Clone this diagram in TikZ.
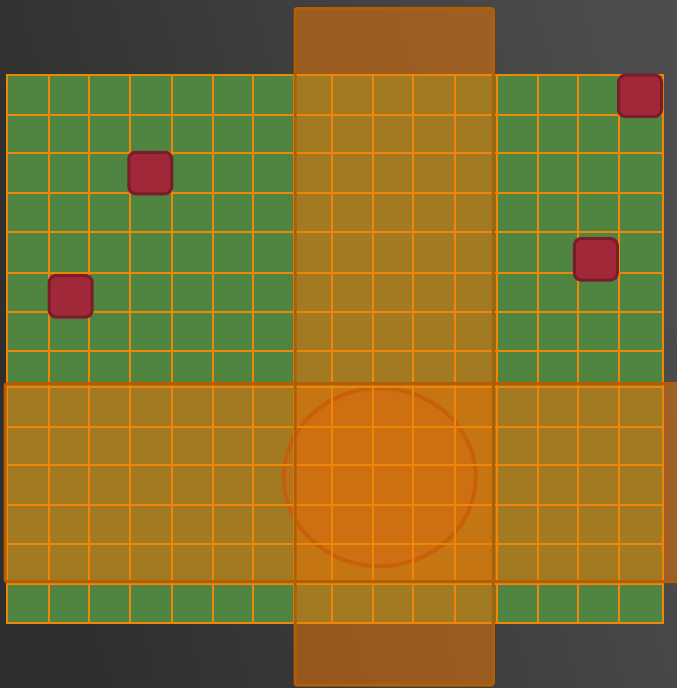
\documentclass[tikz,border=0pt]{standalone}
\usepackage{xcolor}
\usepackage{tikz}
\usetikzlibrary{positioning}

\definecolor{bgdark}{RGB}{46,46,46}
\definecolor{bglight}{RGB}{76,76,76}
\definecolor{turf}{RGB}{79,133,65}
\definecolor{gridorange}{RGB}{240,134,8}
\definecolor{bandorange}{RGB}{226,114,10}
\definecolor{bandedge}{RGB}{178,94,4}
\definecolor{spotorange}{RGB}{222,104,16}
\definecolor{spotedge}{RGB}{200,92,8}
\definecolor{blockred}{RGB}{160,40,56}
\definecolor{blockedge}{RGB}{122,28,42}

\begin{document}
\begin{tikzpicture}[x=1pt, y=-1pt,
  band/.style={fill=bandorange, fill opacity=0.57, rounded corners=2pt},
  bandline/.style={draw=bandedge, line width=3pt, rounded corners=2pt},
  gridline/.style={gridorange, line width=2pt},
  block/.style={draw=blockedge, fill=blockred, line width=3pt, rounded corners=7pt,
                minimum width=43pt, minimum height=41.5pt, inner sep=0pt}]
\useasboundingbox (0,0) rectangle (677,688);
\clip (0,0) rectangle (677,688);
% Backdrop
\shade[bottom color=bgdark, top color=bglight, shading angle=-75] (0,0) rectangle (677,688);
% Playing field
\fill[turf] (6.7,75) rectangle (662.7,623.3);
% Crossing strips
\fill[band] (295,8.5) rectangle (493.3,685);
\fill[band] (5,383.5) rectangle (690,581.5);
% Zone where the strips meet
\draw[fill=spotorange, fill opacity=0.35, draw=spotedge, draw opacity=0.8, line width=4pt]
      (379.7,477.2) ellipse [x radius=96pt, y radius=89pt];
% Field grid
\foreach \x in {6.7,48.7,88.7,130.3,172,213,253.3,293.7,332.3,373.3,413.3,455,496.7,538,578,619.3,662.7} {
  \draw[gridline] (\x,75) -- (\x,623.3);
}
\foreach \y in {75,115,153.3,193.3,232.3,272.7,311.7,351,386.7,426.7,465.3,505,544.3,584.3,623.3} {
  \draw[gridline] (5.7,\y) -- (663.7,\y);
}
% Strip outlines
\draw[bandline] (295,8.5) rectangle (493.3,685);
\draw[bandline] (5,383.5) rectangle (690,581.5);
% Obstacles
\node[block] (blockA) at (150.3,173) {};
\node[block] (blockB) at (70.7,296.3) {};
\node[block] (blockC) at (640,95.8) {};
\node[block] (blockD) at (595.8,259.3) {};
\end{tikzpicture}
\end{document}
